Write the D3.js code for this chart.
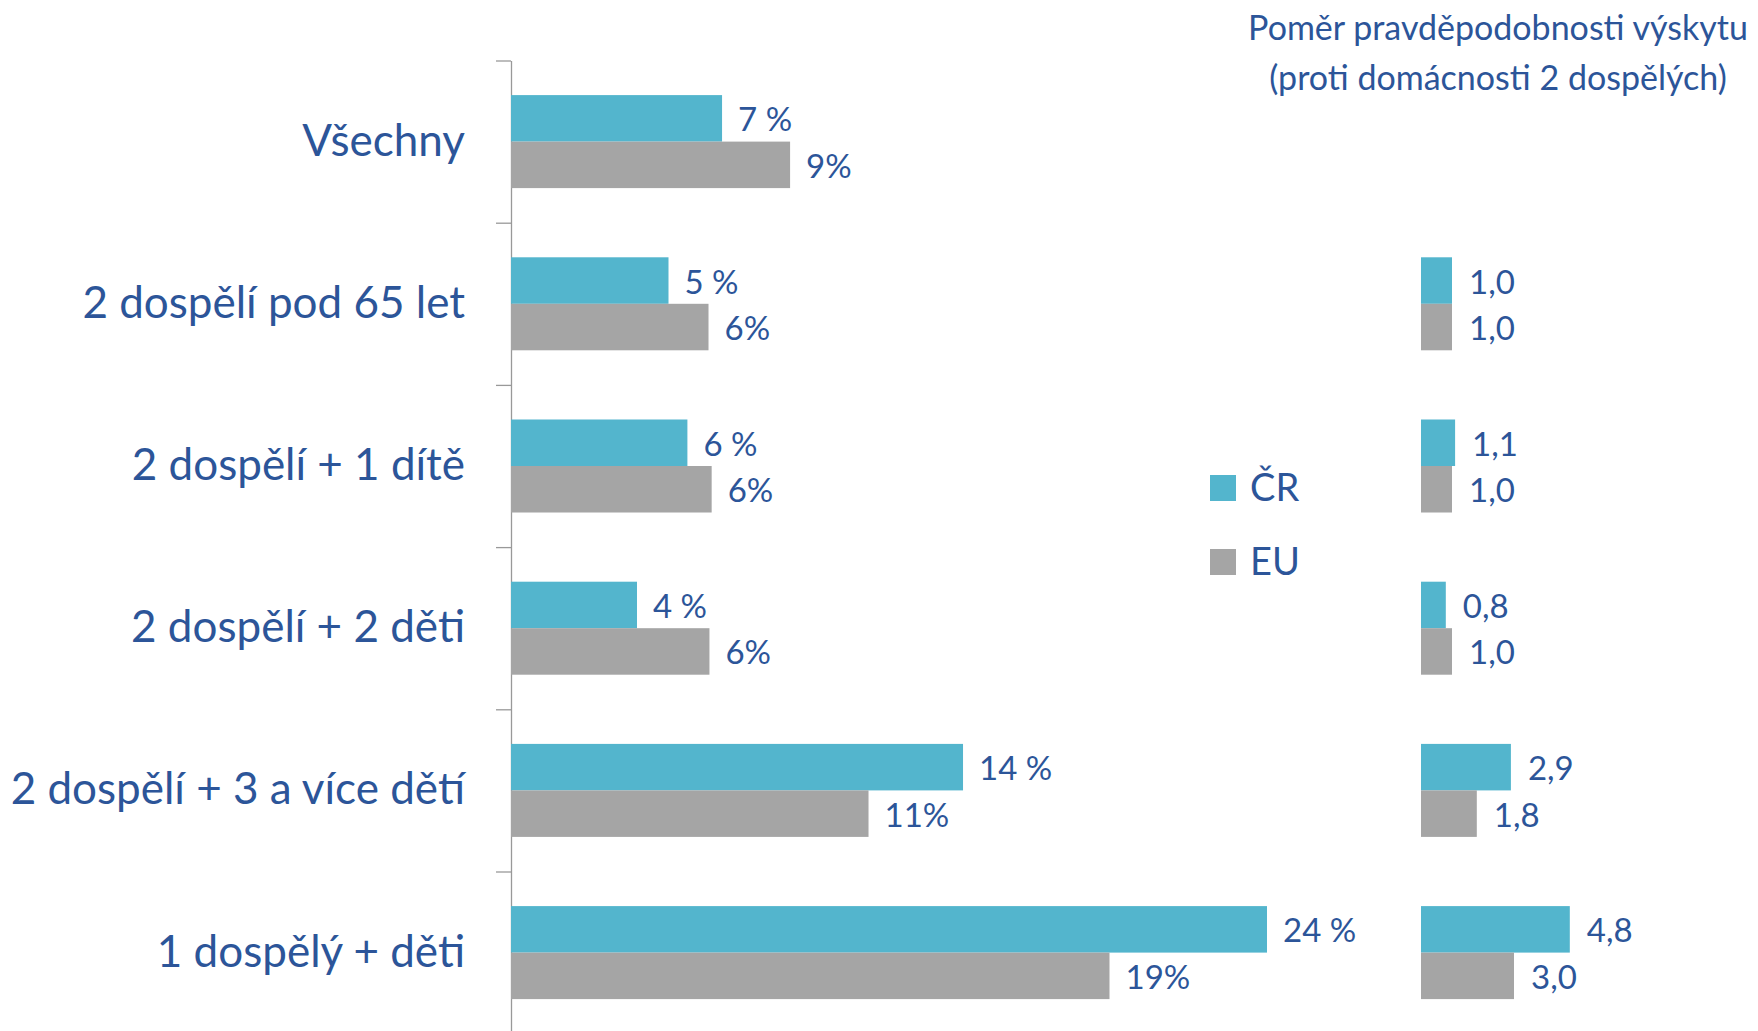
<!DOCTYPE html>
<html>
<head>
<meta charset="utf-8">
<script src="https://cdn.jsdelivr.net/npm/d3@7"></script>
<style>
  html, body { margin: 0; padding: 0; background: #fff; }
  svg { display: block; font-family: Lato, "Noto Sans", sans-serif; }
</style>
</head>
<body>
<svg id="chart"></svg>
<script>
/*
Data
*/

const categories = [
  "Všechny",
  "2 dospělí pod 65 let",
  "2 dospělí + 1 dítě",
  "2 dospělí + 2 děti",
  "2 dospělí + 3 a více dětí",
  "1 dospělý + děti"
];

// share of households (%)
const crValues = [6.7, 5.0, 5.6, 4.0, 14.35, 24.0];
const euValues = [8.86, 6.27, 6.37, 6.3, 11.35, 19.0];

const crLabels = ["7 %", "5 %", "6 %", "4 %", "14 %", "24 %"];
const euLabels = ["9%", "6%", "6%", "6%", "11%", "19%"];

// ratio vs. household of 2 adults (no value for "Všechny")
const crRatio = [null, 1.0, 1.1, 0.8, 2.9, 4.8];
const euRatio = [null, 1.0, 1.0, 1.0, 1.8, 3.0];

const seriesNames = ["ČR", "EU"];
const ratioTitle = ["Poměr pravděpodobnosti výskytu", "(proti domácnosti 2 dospělých)"];

/*
Prototype
*/

var HouseholdChart = function (config) {
  return this.__init__(config);
};

HouseholdChart.prototype = {

  __init__ : function (config) {
    let self = this;

    self.id     = config.id;
    self.width  = config.width;
    self.height = config.height;

    self.colors = { "ČR": "#53b5cd", "EU": "#a5a5a5" };
    self.text   = "#2c5599";

    self.rows = categories.map((c, i) => ({
      cat: c,
      bars: [
        { s: "ČR", v: crValues[i], label: crLabels[i], r: crRatio[i] },
        { s: "EU", v: euValues[i], label: euLabels[i], r: euRatio[i] }
      ]
    }));

    // band per category, sub band per series
    self.y = d3.scaleBand()
      .domain(categories)
      .range([60.5, 60.5 + 6 * 162.2]);

    self.sub = d3.scaleBand()
      .domain(seriesNames)
      .range([0, self.y.bandwidth()])
      .paddingInner(0)
      .paddingOuter(0.744);

    self.x = d3.scaleLinear().domain([0, 30]).range([511, 511 + 945]);
    self.xr = d3.scaleLinear().domain([0, 5]).range([1421, 1421 + 155]);

    self.fmtRatio = d3.formatLocale({ decimal: ",", thousands: " ", grouping: [3], currency: ["", ""] }).format(".1f");

    return self;
  },

  update : function () {
    let self = this;

    self.svg = d3.select(self.id)
      .attr("width", self.width)
      .attr("height", self.height);

    // axis with ticks on the category boundaries
    let yIdx = d3.scaleLinear().domain([0, categories.length]).range(self.y.range());
    let axis = self.svg.append("g")
      .attr("transform", "translate(" + self.x(0) + ",0)")
      .call(d3.axisLeft(yIdx).ticks(categories.length).tickSize(15).tickSizeOuter(0).tickFormat(""));
    axis.selectAll("path, line").attr("stroke", "#999").attr("stroke-width", 1.3);

    // category labels
    self.svg.append("g")
      .selectAll("text")
      .data(categories)
      .join("text")
      .attr("x", 465)
      .attr("y", d => self.y(d) + self.y.bandwidth() / 2 + 14)
      .attr("text-anchor", "end")
      .attr("font-size", 44)
      .attr("fill", self.text)
      .text(d => d);

    let groups = self.svg.append("g")
      .selectAll("g")
      .data(self.rows)
      .join("g")
      .attr("transform", d => "translate(0," + self.y(d.cat) + ")");

    // main bars
    groups.selectAll("rect.main")
      .data(d => d.bars)
      .join("rect")
      .attr("class", "main")
      .attr("x", self.x(0))
      .attr("y", d => self.sub(d.s))
      .attr("width", d => self.x(d.v) - self.x(0))
      .attr("height", self.sub.bandwidth())
      .attr("fill", d => self.colors[d.s]);

    groups.selectAll("text.main")
      .data(d => d.bars)
      .join("text")
      .attr("class", "main")
      .attr("x", d => self.x(d.v) + 16)
      .attr("y", d => self.sub(d.s) + self.sub.bandwidth() / 2 + 13)
      .attr("font-size", 33)
      .attr("fill", self.text)
      .text(d => d.label);

    // ratio bars
    groups.selectAll("rect.ratio")
      .data(d => d.bars.filter(b => b.r != null))
      .join("rect")
      .attr("class", "ratio")
      .attr("x", self.xr(0))
      .attr("y", d => self.sub(d.s))
      .attr("width", d => self.xr(d.r) - self.xr(0))
      .attr("height", self.sub.bandwidth())
      .attr("fill", d => self.colors[d.s]);

    groups.selectAll("text.ratio")
      .data(d => d.bars.filter(b => b.r != null))
      .join("text")
      .attr("class", "ratio")
      .attr("x", d => self.xr(d.r) + 17)
      .attr("y", d => self.sub(d.s) + self.sub.bandwidth() / 2 + 13)
      .attr("font-size", 33)
      .attr("fill", self.text)
      .text(d => self.fmtRatio(d.r));

    // ratio title
    self.svg.append("text")
      .attr("text-anchor", "middle")
      .attr("font-size", 34)
      .attr("fill", self.text)
      .selectAll("tspan")
      .data(ratioTitle)
      .join("tspan")
      .attr("x", 1498)
      .attr("y", (d, i) => 40 + i * 50)
      .text(d => d);

    // legend
    let legend = self.svg.append("g")
      .selectAll("g")
      .data(seriesNames)
      .join("g")
      .attr("transform", (d, i) => "translate(1210," + (475 + i * 74) + ")");

    legend.append("rect")
      .attr("width", 26)
      .attr("height", 26)
      .attr("fill", d => self.colors[d]);

    legend.append("text")
      .attr("x", 40)
      .attr("y", 26)
      .attr("font-size", 38)
      .attr("fill", self.text)
      .text(d => d);

    return self;
  }

};

new HouseholdChart({ id: "#chart", width: 1758, height: 1031 }).update();
</script>
</body>
</html>
